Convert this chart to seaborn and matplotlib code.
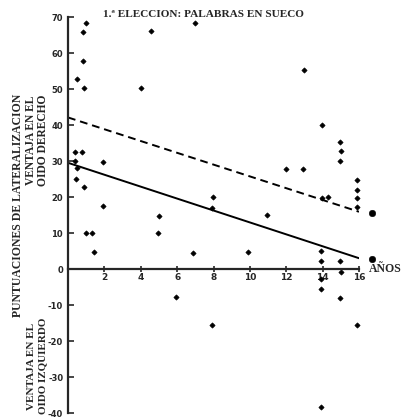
import matplotlib
matplotlib.use("Agg")
import matplotlib.pyplot as plt
import seaborn as sns
import pandas as pd

# ---- data ----
ages = [1.0, 0.8, 0.8, 0.48, 0.88,
        0.37, 0.77, 0.4, 1.94, 0.48, 0.44, 0.86, 1.9, 0.97, 1.34, 1.41,
        4.54, 7.0, 4.01, 7.95, 7.9, 4.98, 4.95, 6.9, 5.94, 7.93,
        13.0, 13.96, 14.95, 15.0, 14.95, 12.0, 12.94, 15.87, 15.87, 15.87, 15.87,
        13.96, 14.3, 10.96, 9.9, 13.93, 13.9, 14.95, 15.0, 13.9, 13.9, 14.97,
        15.87, 13.93]
scores = [68.3, 65.7, 57.9, 52.9, 50.4,
          32.6, 32.6, 30.1, 29.8, 28.1, 24.9, 22.7, 17.5, 10.1, 10.1, 4.8,
          66.0, 68.3, 50.2, 19.9, 17.0, 14.8, 10.1, 4.5, -7.9, -15.6,
          55.4, 40.1, 35.2, 32.8, 30.1, 27.9, 27.9, 24.8, 22.0, 19.7, 17.1,
          19.6, 19.9, 15.0, 4.6, 4.9, 2.1, 2.3, -0.8, -2.9, -5.6, -8.1,
          -15.6, -38.4]

line_x = [0, 16]
dashed_y = [42.1, 15.9]
solid_y = [29.5, 3.0]
end_x = [16.74, 16.74]
end_y = [15.5, 2.9]

x_ticks = [2, 4, 6, 8, 10, 12, 14, 16]
y_ticks = [-40, -30, -20, -10, 0, 10, 20, 30, 40, 50, 60, 70]

title = "1.ª ELECCION: PALABRAS EN SUECO"
ylabel_main = "PUNTUACIONES DE LATERALIZACION"
right_adv = ["VENTAJA EN EL", "OIDO DERECHO"]
left_adv = ["VENTAJA EN EL", "OIDO IZQUIERDO"]
xlabel = "AÑOS"

# ---- style ----
sns.set_style("ticks")
plt.rcParams["font.family"] = ["DejaVu Sans"]
serif = ["Liberation Serif", "DejaVu Serif"]
narrow = ["Liberation Sans Narrow", "DejaVu Sans"]

fig = plt.figure(figsize=(4.03, 4.19), dpi=100)
W, H = 403, 419
ax = fig.add_axes([68 / W, 1 - 413 / H, (359 - 68) / W, (413 - 17) / H])

df = pd.DataFrame({"age": ages, "score": scores})
sns.scatterplot(data=df, x="age", y="score", ax=ax, marker="D", s=7,
                color="black", edgecolor="black", linewidth=0.5, clip_on=False)

lines = pd.DataFrame({"x": line_x, "dashed": dashed_y, "solid": solid_y})
sns.lineplot(data=lines, x="x", y="dashed", ax=ax, color="black", lw=1.4,
             linestyle=(0, (4, 2.5)))
sns.lineplot(data=lines, x="x", y="solid", ax=ax, color="black", lw=1.4)

ends = pd.DataFrame({"x": end_x, "y": end_y})
sns.scatterplot(data=ends, x="x", y="y", ax=ax, s=22, color="black",
                edgecolor="black", clip_on=False)

ax.set_xlim(0, 16)
ax.set_ylim(-40, 70)
ax.set_xlabel("")
ax.set_ylabel("")

for s in ["top", "right"]:
    ax.spines[s].set_visible(False)
ax.spines["bottom"].set_position(("data", 0))
ax.spines["bottom"].set_linewidth(1.6)
ax.spines["left"].set_linewidth(1.6)

ax.set_xticks(x_ticks)
ax.set_xticklabels([str(t) for t in x_ticks], family=narrow,
                   fontweight="bold", fontsize=6.5)
ax.set_yticks(y_ticks)
ax.set_yticklabels([str(t) for t in y_ticks], family=narrow,
                   fontweight="bold", fontsize=6)
ax.tick_params(axis="x", direction="inout", length=5, width=1.2, pad=0.5)
ax.tick_params(axis="y", direction="in", length=4, width=1.2, pad=3.5)

fig.text(103 / W, 1 - 14.5 / H, title, family=serif, fontweight="bold",
         fontsize=8.1, ha="left", va="center")
ax.text(16.55, 0, xlabel, family=serif, fontweight="bold", fontsize=8.5,
        ha="left", va="center", clip_on=False)

fig.text(18 / W, 1 - 205 / H, ylabel_main, family=serif, fontweight="bold",
         fontsize=8.5, rotation=90, ha="center", va="center")
fig.text(31 / W, 1 - 140 / H, right_adv[0], family=serif, fontweight="bold",
         fontsize=8.3, rotation=90, ha="center", va="center")
fig.text(43 / W, 1 - 140 / H, right_adv[1], family=serif, fontweight="bold",
         fontsize=8.3, rotation=90, ha="center", va="center")
fig.text(31 / W, 1 - 366 / H, left_adv[0], family=serif, fontweight="bold",
         fontsize=8, rotation=90, ha="center", va="center")
fig.text(43 / W, 1 - 366 / H, left_adv[1], family=serif, fontweight="bold",
         fontsize=8, rotation=90, ha="center", va="center")

fig.savefig("out.png", dpi=100)
